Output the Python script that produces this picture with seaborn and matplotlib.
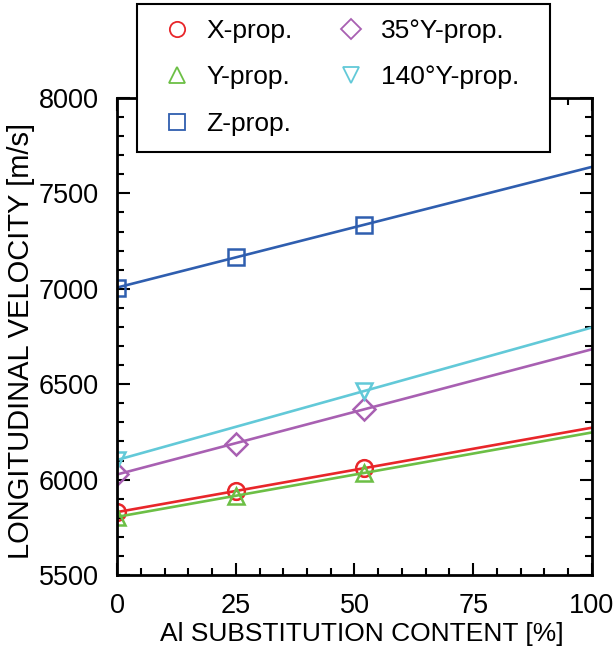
import numpy as np
import pandas as pd
import matplotlib.pyplot as plt
import seaborn as sns
from matplotlib.lines import Line2D
from matplotlib.patches import Rectangle
from matplotlib.ticker import MultipleLocator

sns.set_style("ticks")
plt.rcParams['font.family'] = ['Liberation Sans', 'DejaVu Sans']
plt.rcParams['text.color'] = 'black'
plt.rcParams['axes.labelcolor'] = 'black'

# values
al_content = [0, 25, 52]
x_prop = [5830, 5940, 6060]
y_prop = [5805, 5915, 6035]
z_prop = [7005, 7167, 7334]
y35_prop = [6029, 6187, 6370]
y140_content = [0, 52]
y140_prop = [6103, 6464]

series = [
    ("X-prop.", al_content, x_prop, "o", "#e8262a", 12),
    ("Y-prop.", al_content, y_prop, "^", "#6cbf45", 12),
    ("Z-prop.", al_content, z_prop, "s", "#2f5eaf", 12),
    ("35°Y-prop.", al_content, y35_prop, "D", "#a860b2", 11),
    ("140°Y-prop.", y140_content, y140_prop, "v", "#62c9d8", 12),
]

fig = plt.figure(figsize=(6.14, 6.53), dpi=100)
ax = fig.add_axes([0.1906, 0.1194, 0.7735, 0.7306])

xfit = np.array([0, 100])
handles = []
for name, xs, ys, m, c, ms in series:
    k, b = np.polyfit(xs, ys, 1)
    sns.lineplot(x=xfit, y=k * xfit + b, color=c, linewidth=1.9, ax=ax, legend=False)
    sns.lineplot(x=xs, y=ys, marker=m, linestyle='', color=c, markerfacecolor='none',
                 markeredgecolor=c, markersize=ms, markeredgewidth=1.8, ax=ax, legend=False)
    handles.append(Line2D([], [], marker=m, linestyle='', color=c, markerfacecolor='none',
                          markeredgecolor=c, markersize=ms - 1, markeredgewidth=1.3, label=name))

ax.set_xlim(0, 100)
ax.set_ylim(5500, 8000)
ax.xaxis.set_major_locator(MultipleLocator(25))
ax.xaxis.set_minor_locator(MultipleLocator(5))
ax.yaxis.set_major_locator(MultipleLocator(500))
ax.yaxis.set_minor_locator(MultipleLocator(100))
ax.tick_params(which='both', direction='in', top=True, right=True, width=1.5,
               colors='black', labelcolor='black')
ax.tick_params(which='major', length=9, labelsize=19.5, pad=13)
ax.tick_params(which='minor', length=5)
for s in ax.spines.values():
    s.set_linewidth(2)
    s.set_color('black')

ax.set_xlabel("Al SUBSTITUTION CONTENT [%]", fontsize=19, labelpad=1)
ax.set_ylabel("LONGITUDINAL VELOCITY [m/s]", fontsize=21, labelpad=2)
ax.xaxis.set_label_coords(0.515, -0.098)
ax.yaxis.set_label_coords(-0.172, 0.49)

# legend box
fig.patches.append(Rectangle((137 / 614, 1 - 152 / 653), 413 / 614, 148 / 653,
                             transform=fig.transFigure, facecolor='white',
                             edgecolor='black', linewidth=1.5, zorder=3))
leg = fig.legend(handles=handles, loc='upper left', bbox_to_anchor=(0.249, 0.979),
                 ncol=2, fontsize=19, frameon=False, borderaxespad=0,
                 borderpad=0.2, labelspacing=0.85, columnspacing=1.5, handletextpad=0.43,
                 handlelength=1.4)
leg.set_zorder(4)

fig.savefig("out.png", dpi=100)
